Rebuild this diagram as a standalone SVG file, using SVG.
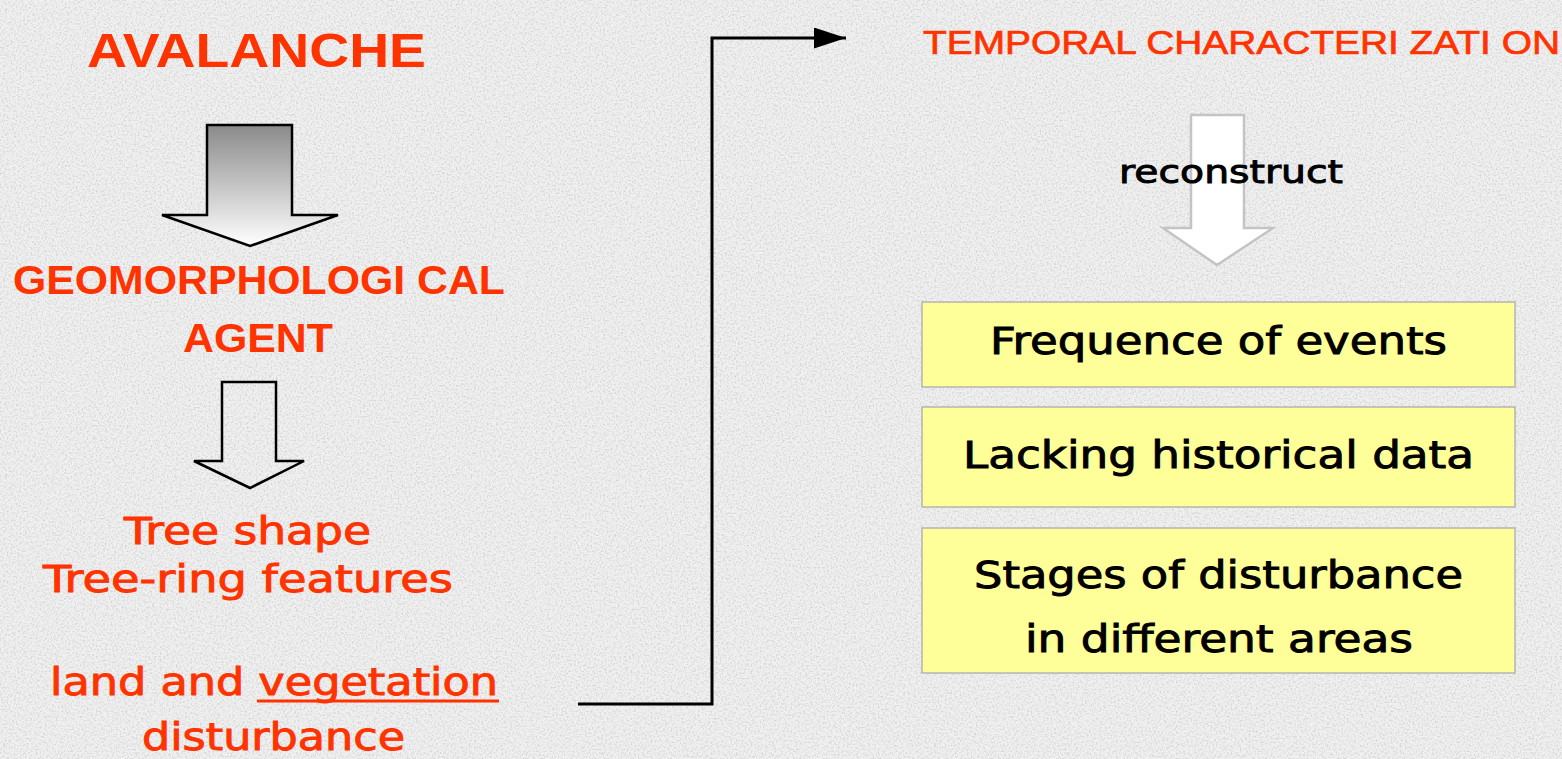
<svg xmlns="http://www.w3.org/2000/svg" width="1562" height="759" viewBox="0 0 1562 759">
<defs>
<style>
.red{fill:#ff3300}
.hb{font-family:"Liberation Sans",Arial,sans-serif;font-weight:bold}
.hr{font-family:"Liberation Sans",Arial,sans-serif;stroke:#ff3300;stroke-width:0.7}
.dj{font-family:"DejaVu Sans",Verdana,sans-serif;stroke-width:0.9}
.dj.red{stroke:#ff3300}
.blk{fill:#000}
.dj.blk{stroke:#000}
.box{fill:#ffff99;stroke:#b4b4b4;stroke-width:1.5}
.conn{fill:none;stroke:#000;stroke-width:3}
</style>
<linearGradient id="g1" x1="0" y1="0" x2="0" y2="1">
<stop offset="0" stop-color="#8a8a8a"/>
<stop offset="1" stop-color="#ffffff"/>
</linearGradient>
<filter id="noise" x="0" y="0" width="100%" height="100%">
<feTurbulence type="fractalNoise" baseFrequency="0.55" numOctaves="2" seed="3" result="t"/>
<feColorMatrix in="t" type="matrix" values="0 0 0 0 0.5  0 0 0 0 0.5  0 0 0 0 0.5  0 0 0 -2.6 1.45"/>
</filter>
<marker id="ah" markerUnits="userSpaceOnUse" markerWidth="34" markerHeight="23" refX="32" refY="10.5" orient="auto">
<path d="M0,0 L32,10.5 L0,21 z" fill="#000"/>
</marker>
</defs>
<rect width="1562" height="759" fill="#f0f0f0"/>
<rect width="1562" height="759" filter="url(#noise)" opacity="0.55"/>

<g id="avalanche">
<text class="hb red" x="87" y="67" font-size="48" textLength="339" lengthAdjust="spacingAndGlyphs">AVALANCHE</text>
</g>
<g id="arrow1">
<path d="M207,125 H292 V215 H338 L250,246 L162,215 H207 Z" fill="url(#g1)" stroke="#000" stroke-width="2.5"/>
</g>
<g id="geomorph">
<text class="hb red" x="13" y="294" font-size="40" textLength="492" lengthAdjust="spacingAndGlyphs">GEOMORPHOLOGI CAL</text>
<text class="hb red" x="183" y="352" font-size="40" textLength="150" lengthAdjust="spacingAndGlyphs">AGENT</text>
</g>
<g id="arrow2">
<path d="M222,382 H276 V461 H304 L250,488 L194,461 H222 Z" fill="none" stroke="#000" stroke-width="2.5"/>
</g>
<g id="tree">
<text class="dj red" x="124" y="544" font-size="37" textLength="247" lengthAdjust="spacingAndGlyphs">Tree shape</text>
<text class="dj red" x="43" y="592" font-size="37" textLength="410" lengthAdjust="spacingAndGlyphs">Tree-ring features</text>
</g>
<g id="disturbance">
<text class="dj red" x="50" y="695" font-size="37" textLength="448" lengthAdjust="spacingAndGlyphs">land and vegetation</text>
<line x1="257" y1="701" x2="499" y2="701" stroke="#ff3300" stroke-width="3"/>
<text class="dj red" x="142" y="750" font-size="37" textLength="263" lengthAdjust="spacingAndGlyphs">disturbance</text>
</g>
<g id="temporal">
<text class="hr red" x="923" y="54" font-size="34" textLength="637" lengthAdjust="spacingAndGlyphs">TEMPORAL CHARACTERI ZATI ON</text>
</g>
<g id="arrow3">
<path d="M1191,115 H1244 V228 H1273 L1217,265 L1163,228 H1191 Z" fill="#ffffff" stroke="#c4c4c4" stroke-width="2.5"/>
<text class="dj blk" x="1119" y="183" font-size="32" textLength="224" lengthAdjust="spacingAndGlyphs">reconstruct</text>
</g>
<g id="box1">
<rect class="box" x="922" y="302" width="593" height="85"/>
<text class="dj blk" x="990" y="354" font-size="37" textLength="457" lengthAdjust="spacingAndGlyphs">Frequence of events</text>
</g>
<g id="box2">
<rect class="box" x="922" y="407" width="593" height="100"/>
<text class="dj blk" x="963" y="468" font-size="37" textLength="511" lengthAdjust="spacingAndGlyphs">Lacking historical data</text>
</g>
<g id="box3">
<rect class="box" x="922" y="528" width="593" height="145"/>
<text class="dj blk" x="974" y="588" font-size="37" textLength="489" lengthAdjust="spacingAndGlyphs">Stages of disturbance</text>
<text class="dj blk" x="1025" y="652" font-size="37" textLength="388" lengthAdjust="spacingAndGlyphs">in different areas</text>
</g>
<g id="connectors">
<path class="conn" d="M578,704 H712 V38 H846" marker-end="url(#ah)"/>
</g>
</svg>
